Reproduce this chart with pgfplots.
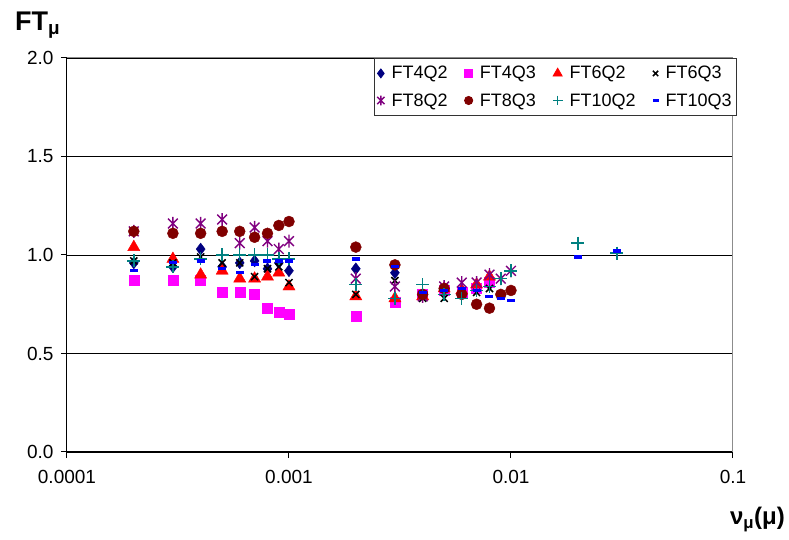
\documentclass[border=0pt]{standalone}
\usepackage{fontspec}
\setmainfont{Liberation Sans}
\usepackage{pgfplots}
\pgfplotsset{compat=1.18}
\definecolor{cFTfourQtwo}{RGB}{0,0,128}
\definecolor{cFTfourQthree}{RGB}{255,0,255}
\definecolor{cFTsixQtwo}{RGB}{255,0,0}
\definecolor{cFTsixQthree}{RGB}{0,0,0}
\definecolor{cFTeightQtwo}{RGB}{128,0,128}
\definecolor{cFTeightQthree}{RGB}{128,0,0}
\definecolor{cFTtenQtwo}{RGB}{0,128,128}
\definecolor{cFTtenQthree}{RGB}{0,0,255}
\pgfdeclareplotmark{xstar}{%
  \pgfpathmoveto{\pgfqpoint{0pt}{\pgfplotmarksize}}%
  \pgfpathlineto{\pgfqpoint{0pt}{-\pgfplotmarksize}}%
  \pgfpathmoveto{\pgfqpoint{0.75\pgfplotmarksize}{0.75\pgfplotmarksize}}%
  \pgfpathlineto{\pgfqpoint{-0.75\pgfplotmarksize}{-0.75\pgfplotmarksize}}%
  \pgfpathmoveto{\pgfqpoint{-0.75\pgfplotmarksize}{0.75\pgfplotmarksize}}%
  \pgfpathlineto{\pgfqpoint{0.75\pgfplotmarksize}{-0.75\pgfplotmarksize}}%
  \pgfusepathqstroke}
\pgfdeclareplotmark{hdash}{%
  \pgfpathrectangle{\pgfqpoint{-4pt}{-1.6pt}}{\pgfqpoint{8pt}{3.2pt}}%
  \pgfusepathqfill}
\begin{document}
\begin{tikzpicture}
\path[use as bounding box] (-67pt,-88pt) rectangle (722pt,452pt);
\begin{axis}[
  scale only axis, width=666pt, height=394pt,
  xmode=log, log basis x=10,
  xmin=1e-4, xmax=0.1, ymin=0, ymax=2,
  xtick={1e-4,1e-3,1e-2,1e-1},
  xticklabels={0.0001,0.001,0.01,0.1},
  xminorticks=false,
  ytick={0,0.5,1,1.5,2},
  yticklabels={0.0,0.5,1.0,1.5,2.0},
  axis x line*=bottom, axis y line*=left,
  axis line style={black, line width=1pt, -},
  tick style={black, line width=1pt},
  tick align=outside, major tick length=6pt,
  ymajorgrids, grid style={black, line width=0.9pt},
  ticklabel style={font=\fontsize{19}{22}\selectfont},
  xticklabel style={yshift=-9pt},
  yticklabel style={xshift=-4pt},
  clip=false,
  legend columns=4,
  legend image post style={scale=0.75},
  legend style={at={(1.006,1.0)}, anchor=north east, draw=black!80, line width=0.8pt,
    font=\fontsize{18}{21}\selectfont, inner xsep=3pt, inner ysep=6pt,
    /tikz/every even column/.append style={column sep=15pt},
    /tikz/every odd column/.append style={column sep=5pt},
    row sep=9pt, cells={anchor=west}},
  legend cell align=left,
]
\addplot[only marks, mark=diamond*, mark size=6pt, color=cFTfourQtwo] coordinates {
(0.0002,0.96) (0.0003,0.94) (0.0004,1.03) (0.0005,0.94) (0.0006,0.96) (0.0007,0.97)
(0.0008,0.93) (0.0009,0.96) (0.001,0.92) (0.002,0.93) (0.003,0.91) (0.004,0.80)
(0.005,0.82) (0.006,0.82) (0.007,0.83) (0.008,0.85)};
\addlegendentry{FT4Q2}
\addplot[only marks, mark=square*, mark size=5pt, color=cFTfourQthree] coordinates {
(0.0002,0.87) (0.0003,0.87) (0.0004,0.87) (0.0005,0.81) (0.0006,0.81) (0.0007,0.80)
(0.0008,0.73) (0.0009,0.71) (0.001,0.70) (0.002,0.69) (0.003,0.76) (0.004,0.80)
(0.005,0.82) (0.006,0.81) (0.007,0.83) (0.008,0.86)};
\addlegendentry{FT4Q3}
\addplot[only marks, mark=triangle*, mark size=7pt, color=cFTsixQtwo] coordinates {
(0.0002,1.04) (0.0003,0.98) (0.0004,0.90) (0.0005,0.92) (0.0006,0.88) (0.0007,0.88)
(0.0008,0.89) (0.0009,0.91) (0.001,0.84) (0.002,0.79) (0.003,0.78) (0.004,0.79)
(0.005,0.83) (0.006,0.82) (0.007,0.85) (0.008,0.89)};
\addlegendentry{FT6Q2}
\addplot[only marks, mark=x, mark size=5pt, color=cFTsixQthree, mark options={line width=1.5pt}] coordinates {
(0.0002,0.97) (0.0003,0.96) (0.0004,0.99) (0.0005,0.96) (0.0006,0.96) (0.0007,0.89)
(0.0008,0.93) (0.0009,0.94) (0.001,0.86) (0.002,0.80) (0.003,0.87) (0.004,0.78)
(0.005,0.78) (0.006,0.81) (0.007,0.81) (0.008,0.83)};
\addlegendentry{FT6Q3}
\addplot[only marks, mark=xstar, mark size=6.5pt, color=cFTeightQtwo, mark options={line width=1.4pt}] coordinates {
(0.0002,1.12) (0.0003,1.16) (0.0004,1.16) (0.0005,1.18) (0.0006,1.06) (0.0007,1.14)
(0.0008,1.07) (0.0009,1.03) (0.001,1.07) (0.002,0.88) (0.003,0.84) (0.004,0.79)
(0.005,0.84) (0.006,0.86) (0.007,0.86) (0.008,0.90) (0.009,0.88) (0.01,0.92)};
\addlegendentry{FT8Q2}
\addplot[only marks, mark=*, mark size=5.5pt, color=cFTeightQthree] coordinates {
(0.0002,1.12) (0.0003,1.11) (0.0004,1.11) (0.0005,1.12) (0.0006,1.12) (0.0007,1.09)
(0.0008,1.11) (0.0009,1.15) (0.001,1.17) (0.002,1.04) (0.003,0.95) (0.004,0.80)
(0.005,0.83) (0.006,0.80) (0.007,0.75) (0.008,0.73) (0.009,0.80) (0.01,0.82)};
\addlegendentry{FT8Q3}
\addplot[only marks, mark=+, mark size=6.5pt, color=cFTtenQtwo, mark options={line width=1.5pt}] coordinates {
(0.0002,0.97) (0.0003,0.94) (0.0004,0.98) (0.0005,1.00) (0.0006,1.00) (0.0007,1.00)
(0.0008,1.00) (0.0009,0.98) (0.001,0.98) (0.002,0.85) (0.003,0.78) (0.004,0.85)
(0.005,0.80) (0.006,0.78) (0.007,0.82) (0.008,0.84) (0.009,0.88) (0.01,0.92)
(0.02,1.06) (0.03,1.01)};
\addlegendentry{FT10Q2}
\addplot[only marks, mark=hdash, color=cFTtenQthree] coordinates {
(0.0002,0.92) (0.0003,0.96) (0.0004,0.97) (0.0005,0.93) (0.0006,0.91) (0.0007,0.95)
(0.0008,0.97) (0.0009,0.97) (0.001,0.97) (0.002,0.98) (0.003,0.94) (0.004,0.81)
(0.005,0.82) (0.006,0.83) (0.007,0.82) (0.008,0.79) (0.009,0.78) (0.01,0.77)
(0.02,0.99) (0.03,1.02)};
\addlegendentry{FT10Q3}
\draw[black!45, line width=1pt] (rel axis cs:0,1) -- (rel axis cs:1,1) -- (rel axis cs:1,0);
\end{axis}
\node[anchor=base west, inner sep=0pt, font=\fontsize{27}{30}\selectfont\bfseries] at (-52pt,421pt) {FT\textsubscript{μ}};
\node[anchor=base east, inner sep=0pt, font=\fontsize{24}{28}\selectfont\bfseries] at (718pt,-73pt) {ν\textsubscript{μ}(μ)};
\end{tikzpicture}
\end{document}
